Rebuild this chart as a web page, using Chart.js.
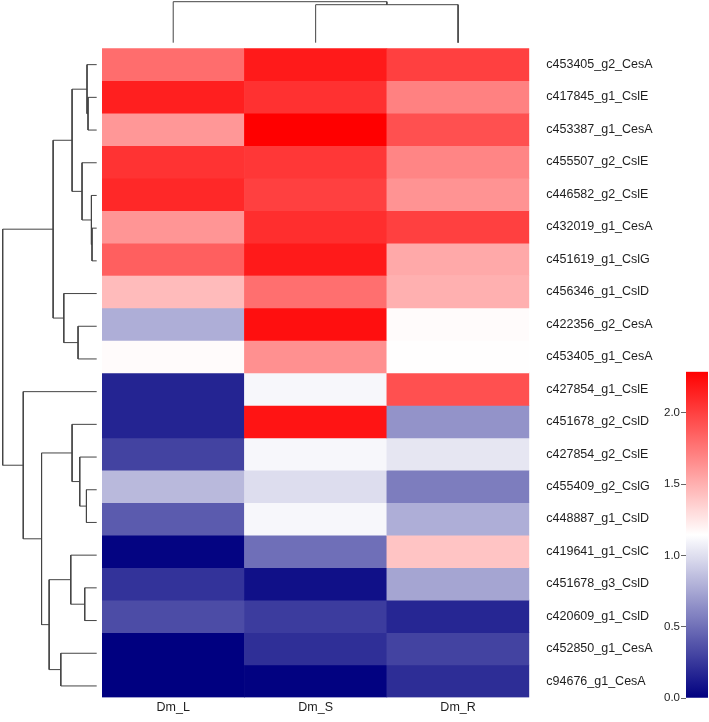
<!DOCTYPE html>
<html>
<head>
<meta charset="utf-8">
<script src="https://cdn.jsdelivr.net/npm/chart.js@4.4.1/dist/chart.umd.min.js"></script>
<style>
  html, body { margin: 0; padding: 0; background: #ffffff; }
  #wrap { position: relative; width: 709px; height: 722px; }
  canvas { position: absolute; left: 0; top: 0; }
</style>
</head>
<body>
<div id="wrap">
  <canvas id="heat" width="709" height="722"></canvas>
  <canvas id="rowDen" width="709" height="722"></canvas>
  <canvas id="colDen" width="709" height="722"></canvas>
  <canvas id="cbar" width="709" height="722"></canvas>
</div>
<script>
// ---------- data ----------
const colNames = ['Dm_L', 'Dm_S', 'Dm_R'];
const rowNames = [
  'c453405_g2_CesA', 'c417845_g1_CslE', 'c453387_g1_CesA', 'c455507_g2_CslE',
  'c446582_g2_CslE', 'c432019_g1_CesA', 'c451619_g1_CslG', 'c456346_g1_CslD',
  'c422356_g2_CesA', 'c453405_g1_CesA', 'c427854_g1_CslE', 'c451678_g2_CslD',
  'c427854_g2_CslE', 'c455409_g2_CslG', 'c448887_g1_CslD', 'c419641_g1_CslC',
  'c451678_g3_CslD', 'c420609_g1_CslD', 'c452850_g1_CesA', 'c94676_g1_CesA'
];
const valL = [1.80, 2.15, 1.61, 2.06, 2.11, 1.62, 1.86, 1.45, 0.78, 1.16,
              0.16, 0.16, 0.30, 0.83, 0.41, 0.02, 0.23, 0.34, 0.00, 0.00];
const valS = [2.17, 2.07, 2.29, 2.04, 2.00, 2.08, 2.17, 1.79, 2.22, 1.64,
              1.11, 2.20, 1.11, 0.99, 1.11, 0.50, 0.07, 0.27, 0.21, 0.01];
const valR = [2.00, 1.71, 1.93, 1.69, 1.63, 2.00, 1.53, 1.50, 1.16, 1.15,
              1.93, 0.66, 1.03, 0.56, 0.78, 1.41, 0.74, 0.17, 0.30, 0.20];
// colour scale
const scaleMin = 0;
const scaleMax = 2.288;
const cbTicks = [0, 0.5, 1.0, 1.5, 2.0];
// row dendrogram merges: [childA, childB, height]; leaves 0..19, new nodes 20..
const rowMerges = [
  [1, 2, 8.7], [0, 20, 9.7], [5, 6, 4.7], [4, 22, 5.3], [3, 23, 14.7],
  [21, 24, 24.7], [8, 9, 18.7], [7, 26, 33], [25, 27, 43.7],
  [13, 14, 10.3], [12, 29, 17], [11, 30, 24.7], [16, 17, 12], [15, 32, 26],
  [18, 19, 36], [33, 34, 47.7], [31, 35, 55.3], [10, 36, 73.7], [28, 37, 94.3]
];
const rowRootH = 94.3;
// column dendrogram merges: leaves 0..2, new nodes 3..
const colMerges = [[1, 2, 38], [0, 3, 41]];
const colRootH = 41;

// ---------- helpers ----------
const FONT = { family: '"Liberation Sans", Arial, Helvetica, sans-serif', size: 12.5 };
const FONT_CB = { family: '"Liberation Sans", Arial, Helvetica, sans-serif', size: 11.5 };
const TXT = '#1e1e1e';
const LINE = '#444444';
const mid = (scaleMin + scaleMax) / 2;

function colorFor(v) {
  let r, g, b;
  if (v <= mid) {
    const s = Math.max(0, (v - scaleMin) / (mid - scaleMin));
    r = 255 * s; g = 255 * s; b = 128 + 127 * s;
  } else {
    const t = Math.min(1, (v - mid) / (scaleMax - mid));
    r = 255; g = 255 * (1 - t); b = 255 * (1 - t);
  }
  return `rgb(${Math.round(r)},${Math.round(g)},${Math.round(b)})`;
}

function dendroSegments(merges, nLeaves, horizontal) {
  const pos = [], hgt = [];
  for (let i = 0; i < nLeaves; i++) { pos.push(i + 0.5); hgt.push(0); }
  const lines = [];
  merges.forEach(([a, b, h]) => {
    lines.push([[pos[a], hgt[a]], [pos[a], h], [pos[b], h], [pos[b], hgt[b]]]);
    pos.push((pos[a] + pos[b]) / 2);
    hgt.push(h);
  });
  return lines.map(pl => pl.map(([p, h]) => horizontal ? { x: p, y: h } : { x: h, y: p }));
}

const matrix = rowNames.map((_, i) => [valL[i], valS[i], valR[i]]);
const common = {
  responsive: false, animation: false, devicePixelRatio: 1,
  plugins: { legend: { display: false }, tooltip: { enabled: false } }
};

// ---------- heatmap ----------
new Chart(document.getElementById('heat'), {
  type: 'bar',
  data: {
    labels: colNames,
    datasets: rowNames.map((name, r) => ({
      label: name,
      data: colNames.map(() => [r, r + 1]),
      backgroundColor: matrix[r].map(colorFor),
      borderWidth: 0,
      borderSkipped: false,
      barPercentage: 1,
      categoryPercentage: 1
    }))
  },
  options: {
    ...common,
    layout: { padding: { left: 102, top: 48.3, right: 0, bottom: 0 } },
    scales: {
      x: {
        stacked: true,
        grid: { display: false, drawTicks: false },
        border: { display: false },
        ticks: { font: FONT, color: TXT, padding: 3, maxRotation: 0 },
        afterFit: s => { s.height = 722 - 702.3; }
      },
      y: {
        stacked: false,
        position: 'right',
        min: 0, max: rowNames.length, reverse: true,
        grid: { display: false, drawTicks: false },
        border: { display: false },
        afterBuildTicks: s => { s.ticks = rowNames.map((_, i) => ({ value: i + 0.5 })); },
        ticks: { autoSkip: false, font: FONT, color: TXT, padding: 17, callback: (v, i) => rowNames[i] },
        afterFit: s => { s.width = 709 - 529.3; }
      }
    }
  }
});

// ---------- row dendrogram ----------
new Chart(document.getElementById('rowDen'), {
  type: 'scatter',
  data: {
    datasets: dendroSegments(rowMerges, rowNames.length, false).map(pl => ({
      data: pl, showLine: true, borderColor: LINE, borderWidth: 1,
      pointRadius: 0, tension: 0, fill: false, clip: false
    }))
  },
  options: {
    ...common,
    layout: { padding: { left: 2.7, right: 709 - 96.7, top: 48.3, bottom: 722 - 702.3 } },
    scales: {
      x: { type: 'linear', display: false, min: 0, max: rowRootH, reverse: true },
      y: { type: 'linear', display: false, min: 0, max: rowNames.length, reverse: true }
    }
  }
});

// ---------- column dendrogram ----------
new Chart(document.getElementById('colDen'), {
  type: 'scatter',
  data: {
    datasets: dendroSegments(colMerges, colNames.length, true).map(pl => ({
      data: pl, showLine: true, borderColor: LINE, borderWidth: 1,
      pointRadius: 0, tension: 0, fill: false, clip: false
    }))
  },
  options: {
    ...common,
    layout: { padding: { left: 102, right: 709 - 529.3, top: 1.7, bottom: 722 - 42.7 } },
    scales: {
      x: { type: 'linear', display: false, min: 0, max: colNames.length },
      y: { type: 'linear', display: false, min: 0, max: colRootH }
    }
  }
});

// ---------- colour bar ----------
new Chart(document.getElementById('cbar'), {
  type: 'bar',
  data: {
    labels: [''],
    datasets: [{
      data: [[scaleMin, scaleMax]],
      borderWidth: 0, borderSkipped: false,
      barPercentage: 1, categoryPercentage: 1,
      backgroundColor: (ctx) => {
        const chart = ctx.chart;
        if (!chart.chartArea) return 'rgba(0,0,0,0)';
        const ys = chart.scales.y;
        const y0 = ys.getPixelForValue(scaleMin), y1 = ys.getPixelForValue(scaleMax);
        const g = chart.ctx.createLinearGradient(0, y0, 0, y1);
        const n = 40;
        for (let k = 0; k <= n; k++) {
          g.addColorStop(k / n, colorFor(scaleMin + (scaleMax - scaleMin) * k / n));
        }
        return g;
      }
    }]
  },
  options: {
    ...common,
    layout: { padding: { left: 620, right: 1, top: 371.7, bottom: 722 - 698 } },
    scales: {
      x: { display: false },
      y: {
        position: 'left',
        min: scaleMin, max: scaleMax,
        afterBuildTicks: s => { s.ticks = cbTicks.map(v => ({ value: v })); },
        ticks: { font: FONT_CB, color: TXT, padding: 1, callback: v => Number(v).toFixed(1) },
        grid: { drawOnChartArea: false, drawTicks: true, tickLength: 5, color: '#666666', lineWidth: 1 },
        border: { display: false },
        afterFit: s => { s.width = 686 - 620; }
      }
    }
  }
});
</script>
</body>
</html>
